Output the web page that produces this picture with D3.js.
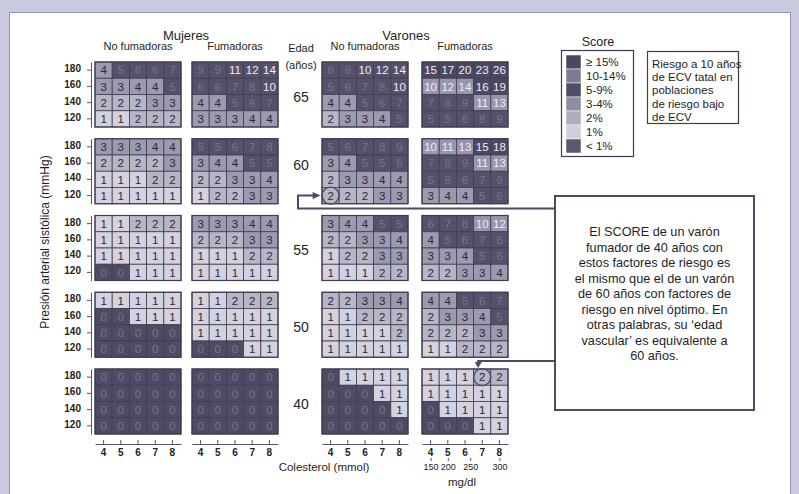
<!DOCTYPE html>
<html><head><meta charset="utf-8">
<script src="https://cdn.jsdelivr.net/npm/d3@7"></script>
<style>
html,body{margin:0;padding:0;background:#cbcbe0;}
svg{display:block;font-family:"Liberation Sans",Arial,Helvetica,sans-serif;}
</style></head><body>
<svg id="chart" width="799" height="494"></svg>
<script>
// SCORE table: 10-year risk of fatal CVD, low-risk populations
const cholesterol = [4, 5, 6, 7, 8];          // mmol/L, columns
const pressure = [180, 160, 140, 120];        // mmHg, rows (top to bottom)
const ages = [65, 60, 55, 50, 40];
const mgdlTicks = [150, 200, 250, 300];
const mgdlOnMmol = [4, 5, 6.3, 8];
const panelKeys = ["mujeresNo", "mujeresSi", "varonesNo", "varonesSi"];
const panelTitles = ["No fumadoras", "Fumadoras", "No fumadoras", "Fumadoras"];
const sexTitles = ["Mujeres", "Varones"];
const legendLabels = ["\u2265 15%", "10-14%", "5-9%", "3-4%", "2%", "1%", "< 1%"];
const infoLines = ["Riesgo a 10 años", "de ECV tatal en", "poblaciones", "de riesgo bajo", "de ECV"];
const noteLines = [
  "El SCORE de un varón",
  "fumador de 40 años con",
  "estos factores de riesgo es",
  "el mismo que el de un varón",
  "de 60 años con factores de",
  "riesgo en nivel óptimo. En",
  "otras palabras, su \u2018edad",
  "vascular\u2019 es equivalente a",
  "60 años."
];

// one 4x5 matrix per age (65, 60, 55, 50, 40)
const mujeresNoFumadoras = [
  [[4,5,6,6,7],[3,3,4,4,5],[2,2,2,3,3],[1,1,2,2,2]],
  [[3,3,3,4,4],[2,2,2,2,3],[1,1,1,2,2],[1,1,1,1,1]],
  [[1,1,2,2,2],[1,1,1,1,1],[1,1,1,1,1],[0,0,1,1,1]],
  [[1,1,1,1,1],[0,0,1,1,1],[0,0,0,0,0],[0,0,0,0,0]],
  [[0,0,0,0,0],[0,0,0,0,0],[0,0,0,0,0],[0,0,0,0,0]]
];
const mujeresFumadoras = [
  [[9,9,11,12,14],[6,6,7,8,10],[4,4,5,6,7],[3,3,3,4,4]],
  [[5,5,6,7,8],[3,4,4,5,5],[2,2,3,3,4],[1,2,2,3,3]],
  [[3,3,3,4,4],[2,2,2,3,3],[1,1,1,2,2],[1,1,1,1,1]],
  [[1,1,2,2,2],[1,1,1,1,1],[1,1,1,1,1],[0,0,0,1,1]],
  [[0,0,0,0,0],[0,0,0,0,0],[0,0,0,0,0],[0,0,0,0,0]]
];
const varonesNoFumadores = [
  [[8,9,10,12,14],[5,6,7,8,10],[4,4,5,6,7],[2,3,3,4,5]],
  [[5,6,7,8,9],[3,4,5,5,6],[2,3,3,4,4],[2,2,2,3,3]],
  [[3,4,4,5,5],[2,2,3,3,4],[1,2,2,3,3],[1,1,1,2,2]],
  [[2,2,3,3,4],[1,1,2,2,2],[1,1,1,1,2],[1,1,1,1,1]],
  [[0,1,1,1,1],[0,0,0,1,1],[0,0,0,0,1],[0,0,0,0,0]]
];
const varonesFumadores = [
  [[15,17,20,23,26],[10,12,14,16,19],[7,8,9,11,13],[5,5,6,8,9]],
  [[10,11,13,15,18],[7,8,9,11,13],[5,5,6,7,9],[3,4,4,5,6]],
  [[6,7,8,10,12],[4,5,6,7,8],[3,3,4,5,6],[2,2,3,3,4]],
  [[4,4,5,6,7],[2,3,3,4,5],[2,2,2,3,3],[1,1,2,2,2]],
  [[1,1,1,2,2],[1,1,1,1,1],[0,1,1,1,1],[0,0,0,1,1]]
];
const panelData = [mujeresNoFumadoras, mujeresFumadoras, varonesNoFumadores, varonesFumadores];

// ---------- scales ----------
const panelX = d3.scaleOrdinal().domain(panelKeys).range([95, 192, 322, 422]);
const colScale = d3.scaleBand().domain(cholesterol).range([0, 86]);
const rowScale = d3.scaleBand().domain(pressure).range([0, 65]);
const ageScale = d3.scaleBand().domain(ages).range([62, 434]).paddingInner(0.153);
const mmolLinear = d3.scaleLinear().domain([4, 8])
  .range([colScale(4) + colScale.bandwidth() / 2, colScale(8) + colScale.bandwidth() / 2]);

const band = d3.scaleThreshold().domain([1, 2, 3, 5, 10, 15])
  .range(["lt1", "1", "2", "3-4", "5-9", "10-14", "15"]);
const fill = d3.scaleOrdinal()
  .domain(["lt1", "1", "2", "3-4", "5-9", "10-14", "15"])
  .range(["#4f4b65", "#d3d2de", "#b7b6c7", "#9b9aae", "#55516b", "#55516b", "#4c4862"]);
// the smokers' panel for men prints its 10-14% band in a lighter tint
const fillLifted = "#9896ac";
const legendFill = ["#4a475f", "#7d7b91", "#4f4c65", "#8f8da3", "#aeadbf", "#cfcedb", "#5b5870"];

function cellFill(v, key) {
  const b = band(v);
  if (b === "10-14" && key === "varonesSi") return fillLifted;
  return fill(b);
}
function textFill(v) {
  if (v >= 10) return "#eeeef5";
  const b = band(v);
  if (b === "lt1" || b === "5-9") return "#77738c";
  return "#2a2939";
}

const svg = d3.select("#chart");

// frame
svg.append("rect").attr("x", 0).attr("y", 0).attr("width", 799).attr("height", 494).attr("fill", "#cbcbe0");
svg.append("rect").attr("x", 9.5).attr("y", 12.5).attr("width", 781).attr("height", 490)
  .attr("fill", "#ffffff").attr("stroke", "#9494b4").attr("stroke-width", 1);

// headings
const headG = svg.append("g").attr("fill", "#1e1e28");
headG.selectAll("text.sex").data(sexTitles).join("text")
  .attr("x", (d, i) => i === 0 ? 186 : 406).attr("y", 39.5)
  .attr("text-anchor", "middle").attr("font-size", 13).text(d => d);
headG.selectAll("text.pt").data(panelTitles).join("text")
  .attr("x", (d, i) => panelX(panelKeys[i]) + 43).attr("y", 50)
  .attr("text-anchor", "middle").attr("font-size", 11).text(d => d);
headG.append("text").attr("x", 301).attr("y", 51.5).attr("text-anchor", "middle")
  .attr("font-size", 11).text("Edad");
headG.append("text").attr("x", 301).attr("y", 69).attr("text-anchor", "middle")
  .attr("font-size", 11).text("(años)");

// age labels (60 sits a little higher, clear of the arrow below it)
headG.selectAll("text.age").data(ages).join("text")
  .attr("x", 301).attr("y", d => ageScale(d) + (d === 60 ? 26 : 35) + 5)
  .attr("text-anchor", "middle").attr("font-size", 14).text(d => d);

// cells
panelKeys.forEach((key, pi) => {
  ages.forEach((age, ai) => {
    const g = svg.append("g")
      .attr("transform", `translate(${panelX(key)},${ageScale(age)})`);
    const cells = [];
    pressure.forEach((p, ri) => cholesterol.forEach((c, ci) => {
      cells.push({p, c, v: panelData[pi][ai][ri][ci]});
    }));
    g.selectAll("rect.c").data(cells).join("rect")
      .attr("x", d => colScale(d.c)).attr("y", d => rowScale(d.p))
      .attr("width", colScale.bandwidth()).attr("height", rowScale.bandwidth())
      .attr("fill", d => cellFill(d.v, key))
      .attr("stroke", "#3f3c53").attr("stroke-width", 0.8);
    g.selectAll("text.v").data(cells).join("text")
      .attr("x", d => colScale(d.c) + colScale.bandwidth() / 2)
      .attr("y", d => rowScale(d.p) + rowScale.bandwidth() / 2 + 4.2)
      .attr("text-anchor", "middle").attr("font-size", 11.5)
      .attr("fill", d => textFill(d.v)).text(d => d.v);
    g.append("rect").attr("x", 0).attr("y", 0).attr("width", 86).attr("height", 65)
      .attr("fill", "none").attr("stroke", "#3f3c53").attr("stroke-width", 1.2);
  });
});

// y axes
function styleAxis(sel) {
  sel.selectAll("path,line").attr("stroke", "#555566");
  sel.selectAll("text").attr("fill", "#222").attr("font-size", 10).attr("font-weight", "bold")
    .attr("font-family", "'Liberation Sans',Arial,sans-serif");
}
ages.forEach(age => {
  svg.append("g").attr("transform", `translate(91,${ageScale(age)})`)
    .call(d3.axisLeft(rowScale).tickSize(4).tickSizeOuter(0).tickPadding(6))
    .call(styleAxis)
    .selectAll("text").attr("dy", "0.2em");
});

// x axes
panelKeys.forEach(key => {
  svg.append("g").attr("transform", `translate(${panelX(key)},444)`)
    .call(d3.axisBottom(colScale).tickSize(-4).tickSizeOuter(0).tickPadding(5))
    .call(styleAxis);
});
const mg = svg.append("g").attr("transform", `translate(${panelX("varonesSi")},458)`)
  .call(d3.axisBottom(mmolLinear).tickValues(mgdlOnMmol).tickFormat((d, i) => mgdlTicks[i])
    .tickSize(3).tickPadding(3))
  .call(styleAxis);
mg.select(".domain").remove();
mg.selectAll("text").attr("font-size", 9).attr("font-weight", "normal");

svg.append("text").attr("x", 324).attr("y", 471).attr("text-anchor", "middle")
  .attr("font-size", 11.5).attr("fill", "#1e1e28").text("Colesterol (mmol)");
svg.append("text").attr("x", 462).attr("y", 486).attr("text-anchor", "middle")
  .attr("font-size", 11.5).attr("fill", "#1e1e28").text("mg/dl");

svg.append("text").attr("transform", "translate(49,242) rotate(-90)")
  .attr("text-anchor", "middle").attr("font-size", 12).attr("fill", "#1e1e28")
  .text("Presión arterial sistólica (mmHg)");

// legend
svg.append("text").attr("x", 598).attr("y", 46).attr("text-anchor", "middle")
  .attr("font-size", 12.5).attr("fill", "#1e1e28").text("Score");
svg.append("rect").attr("x", 561.5).attr("y", 50.5).attr("width", 72).attr("height", 106)
  .attr("fill", "#fff").attr("stroke", "#3f3c53").attr("stroke-width", 1.2);
const legY = d3.scaleBand().domain(d3.range(legendLabels.length)).range([55, 153]);
svg.selectAll("rect.lg").data(legendLabels).join("rect")
  .attr("x", 566).attr("y", (d, i) => legY(i)).attr("width", 15).attr("height", legY.bandwidth())
  .attr("fill", (d, i) => legendFill[i]).attr("stroke", "#fff").attr("stroke-width", 0.5);
svg.selectAll("text.lg").data(legendLabels).join("text")
  .attr("x", 586).attr("y", (d, i) => legY(i) + legY.bandwidth() / 2 + 3.5)
  .attr("font-size", 11.5).attr("fill", "#1e1e28").text(d => d);

// info box
svg.append("rect").attr("x", 647.5).attr("y", 51.5).attr("width", 91).attr("height", 72)
  .attr("fill", "#fff").attr("stroke", "#3f3c53").attr("stroke-width", 1.2);
svg.selectAll("text.info").data(infoLines).join("text")
  .attr("x", 652).attr("y", (d, i) => 68 + i * 13.2)
  .attr("font-size", 11.5).attr("fill", "#1e1e28").text(d => d);

// note box
const box = {x: 555, y: 196, w: 199, h: 214};
svg.append("rect").attr("x", box.x).attr("y", box.y).attr("width", box.w).attr("height", box.h)
  .attr("fill", "#fff").attr("stroke", "#4d4b63").attr("stroke-width", 2);
svg.selectAll("text.note").data(noteLines).join("text")
  .attr("x", box.x + box.w / 2).attr("y", (d, i) => 236 + i * 15.5)
  .attr("text-anchor", "middle").attr("font-size", 12.7).attr("fill", "#1e1e28").text(d => d);

// arrows from the note to the two compared cells
function cellCenter(key, age, p, c) {
  return [panelX(key) + colScale(c) + colScale.bandwidth() / 2,
          ageScale(age) + rowScale(p) + rowScale.bandwidth() / 2];
}
const a = cellCenter("varonesNo", 60, 120, 4);
const b = cellCenter("varonesSi", 40, 180, 7);
const ink = "#4d4b63";
svg.append("path").attr("d", `M${box.x},208.5 H298 V${a[1]} H${a[0] - 17}`)
  .attr("fill", "none").attr("stroke", ink).attr("stroke-width", 2);
svg.append("path").attr("d", `M${a[0] - 18},${a[1] - 3.5} L${a[0] - 10},${a[1]} L${a[0] - 18},${a[1] + 3.5} Z`)
  .attr("fill", ink);
svg.append("path").attr("d", `M${box.x},361 H${b[0] - 4} V${b[1] - 14}`)
  .attr("fill", "none").attr("stroke", ink).attr("stroke-width", 2);
svg.append("path").attr("d", `M${b[0] - 7.5},${b[1] - 15} L${b[0] - 4},${b[1] - 9} L${b[0] - 0.5},${b[1] - 15} Z`)
  .attr("fill", ink);
[a, b].forEach(pt => {
  svg.append("circle").attr("cx", pt[0]).attr("cy", pt[1]).attr("r", 8.5)
    .attr("fill", "none").attr("stroke", ink).attr("stroke-width", 1.4);
});
</script>
</body></html>
